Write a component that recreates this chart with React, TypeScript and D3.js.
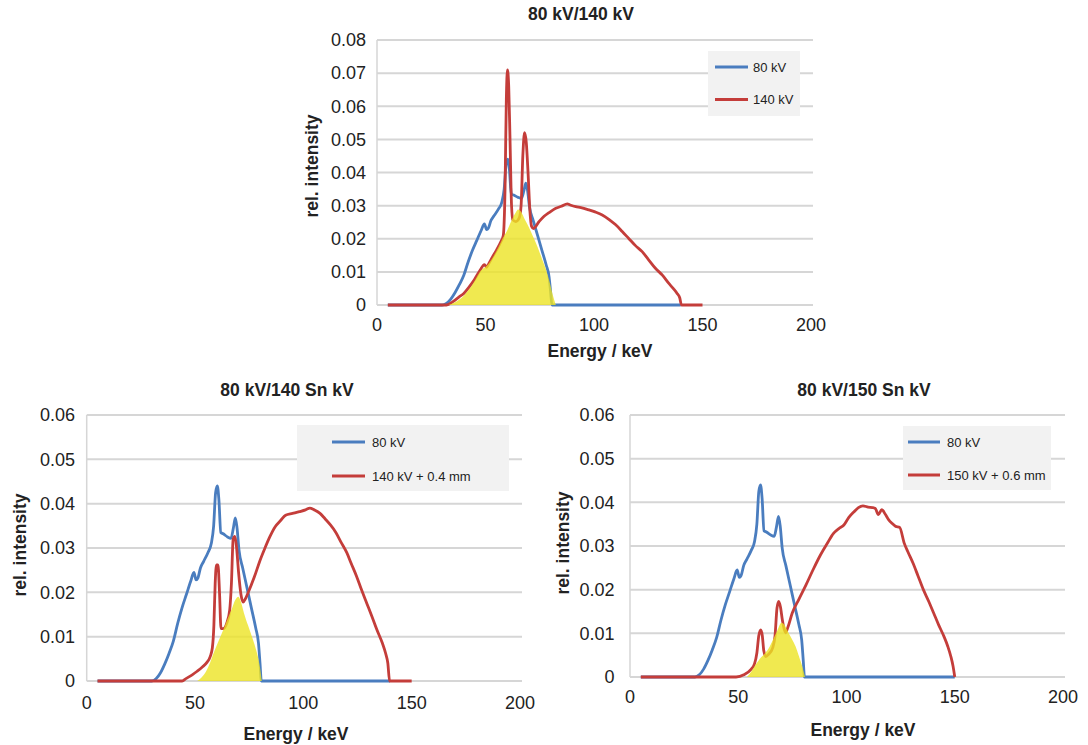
import React from "react";
import * as d3 from "d3";

// ---------- data ----------
const e80 = [5, 30, 32, 34, 36, 38, 40, 42, 44, 46, 48, 49.5, 50.5, 51.3, 52.5, 54, 56, 57.5, 58.6, 59.5, 60.3, 61, 61.9, 63, 65, 66.6, 67.7, 68.6, 69.4, 70.3, 72, 74, 76, 78, 79.3, 80, 80.6, 140];
const i80 = [0, 0, 0.0005, 0.0018, 0.0038, 0.0062, 0.009, 0.013, 0.0165, 0.0195, 0.0225, 0.0245, 0.0228, 0.0232, 0.0255, 0.027, 0.029, 0.031, 0.035, 0.0425, 0.044, 0.041, 0.0335, 0.0332, 0.0325, 0.0322, 0.0345, 0.0368, 0.0345, 0.0295, 0.0255, 0.021, 0.0165, 0.012, 0.0085, 0.004, 0, 0];
const e80End150 = [...e80.slice(0, -1), 150];

const e140 = [5, 32, 35, 38, 40, 42.5, 45, 47.5, 49.5, 50.5, 51.5, 53.3, 55, 57, 58.2, 59, 59.6, 60.1, 60.7, 61.3, 62, 62.6, 64, 65.5, 66.4, 67.2, 68, 68.8, 69.6, 70.5, 71.2, 72.1, 74.7, 77, 79.3, 82.4, 85, 87.7, 89, 91.6, 94, 97.7, 100.5, 103.8, 107, 110, 113, 116, 119, 122.2, 125, 128.3, 131.5, 134.5, 136.5, 138.3, 139.5, 140.3, 150];
const i140 = [0, 0, 0.001, 0.0025, 0.0035, 0.0055, 0.0078, 0.0105, 0.0122, 0.0114, 0.0125, 0.0146, 0.0165, 0.019, 0.021, 0.035, 0.062, 0.071, 0.066, 0.05, 0.03, 0.0257, 0.0252, 0.0262, 0.03, 0.045, 0.052, 0.049, 0.04, 0.028, 0.0238, 0.0231, 0.0252, 0.0268, 0.0279, 0.0292, 0.0298, 0.0305, 0.0302, 0.0297, 0.0294, 0.0287, 0.0281, 0.0272, 0.0258, 0.0242, 0.0222, 0.0201, 0.018, 0.0161, 0.0138, 0.0111, 0.009, 0.0065, 0.005, 0.0035, 0.0022, 0, 0];
const eOverlap1 = [33, 36, 40, 44, 48, 50.5, 53, 56, 58, 60, 62, 64, 65, 66.5, 68, 70, 72, 74, 76, 78, 79.5, 81, 82.4];
const iOverlap1 = [0, 0.0008, 0.0028, 0.0062, 0.0105, 0.0118, 0.014, 0.0175, 0.0202, 0.0225, 0.0255, 0.028, 0.0288, 0.028, 0.026, 0.0235, 0.0205, 0.0175, 0.014, 0.0105, 0.007, 0.003, 0];

const e140Sn = [5, 44, 46, 48.7, 51, 53.5, 55.5, 57, 58, 58.7, 59.3, 59.9, 60.6, 61.3, 62, 63, 64.6, 66, 66.8, 67.6, 68.4, 69.2, 70.1, 71.2, 72.2, 73.2, 74.4, 77.4, 80, 82.2, 84.5, 87, 89.5, 91.8, 95, 98.2, 101, 103, 105, 107.7, 110, 112.5, 115, 117.3, 120, 122.1, 124.5, 126.9, 129.3, 131.7, 134, 136.5, 138, 139, 139.8, 150];
const i140Sn = [0, 0, 0.0006, 0.0014, 0.0022, 0.0032, 0.0042, 0.0055, 0.0075, 0.0125, 0.022, 0.0262, 0.0262, 0.02, 0.0118, 0.0118, 0.013, 0.016, 0.022, 0.032, 0.0326, 0.03, 0.0245, 0.0195, 0.0178, 0.0185, 0.0198, 0.0235, 0.0272, 0.0299, 0.0325, 0.0348, 0.0362, 0.0374, 0.0378, 0.0382, 0.0386, 0.039, 0.0386, 0.0378, 0.0366, 0.0352, 0.0335, 0.0314, 0.029, 0.0265, 0.0237, 0.0205, 0.0175, 0.0145, 0.0115, 0.0085, 0.0062, 0.004, 0, 0];
const eOverlap2 = [51, 53, 55, 57, 59, 61, 63, 65, 67, 68.5, 70, 71.2, 72.6, 74.5, 76, 77.5, 79, 80, 80.8];
const iOverlap2 = [0, 0.0008, 0.0021, 0.0042, 0.0068, 0.0092, 0.0115, 0.014, 0.0163, 0.0182, 0.019, 0.0178, 0.0153, 0.0125, 0.0104, 0.0082, 0.0055, 0.003, 0];

const e150Sn = [5, 49, 52.6, 55.8, 57.5, 58.6, 59.5, 60.4, 61.1, 61.8, 62.7, 64, 66, 67, 67.9, 68.7, 69.5, 70.4, 71.8, 73, 74.9, 78, 81.3, 84.5, 87.6, 91, 94, 96.5, 98.8, 101, 103.6, 105.5, 107.6, 110, 112, 113.3, 114.7, 116.3, 118, 119.5, 121, 122.7, 124.5, 126.7, 128.5, 130.7, 133, 135.5, 138, 140.3, 142.5, 145, 146.8, 148.2, 149.2, 150];
const i150Sn = [0, 0, 0.0005, 0.0017, 0.003, 0.0055, 0.0095, 0.0108, 0.0095, 0.006, 0.0047, 0.0052, 0.0068, 0.0095, 0.0158, 0.0173, 0.016, 0.013, 0.0101, 0.0115, 0.0146, 0.0178, 0.0211, 0.0245, 0.0276, 0.0305, 0.0329, 0.034, 0.0348, 0.0365, 0.0379, 0.0388, 0.0392, 0.0389, 0.0388, 0.0386, 0.0372, 0.0383, 0.0372, 0.036, 0.0352, 0.0345, 0.0343, 0.0306, 0.0285, 0.0261, 0.0232, 0.02, 0.0173, 0.0146, 0.012, 0.0093, 0.007, 0.0047, 0.0025, 0];
const eOverlap3 = [54, 56, 58, 60, 62, 64, 66, 68, 70, 71.5, 73.3, 75, 76.5, 78, 79.5, 80.8];
const iOverlap3 = [0, 0.0012, 0.0028, 0.0042, 0.0052, 0.0065, 0.0085, 0.0106, 0.0124, 0.0118, 0.01, 0.0085, 0.007, 0.0048, 0.0025, 0];

const xTicks = [0, 50, 100, 150, 200];
const yTicksTop = [0, 0.01, 0.02, 0.03, 0.04, 0.05, 0.06, 0.07, 0.08];
const yTicksBottom = [0, 0.01, 0.02, 0.03, 0.04, 0.05, 0.06];

const titles = ["80 kV/140 kV", "80 kV/140 Sn kV", "80 kV/150 Sn kV"];
const legendTop = ["80 kV", "140 kV"];
const legendLeft = ["80 kV", "140 kV + 0.4 mm"];
const legendRight = ["80 kV", "150 kV + 0.6 mm"];

const BLUE = "#4a7dbf";
const RED = "#c43d3a";
const GRID = "#d6d6d6";
const FONT = "'Liberation Sans', Arial, Helvetica, sans-serif";

const zip = (e: number[], v: number[]) => e.map((x, i) => [x, v[i]] as [number, number]);
const fmt = (v: number) => (v === 0 ? "0" : d3.format(".2f")(v));

type Layout = {
  x0: number; x1: number; y0: number; y1: number; yMax: number; yTicks: number[];
  yTickRight: number; xTickY: number; title: string; titleX: number; titleY: number;
  xLabelX: number; xLabelY: number; yLabelX: number; yLabelY: number;
  legend: { x: number; y: number; w: number; h: number; lx0: number; lx1: number; tx: number; ly: number[]; labels: string[] };
  blue: [number, number][]; red: [number, number][]; overlap: [number, number][];
};

function Panel({ L }: { L: Layout }) {
  const x = d3.scaleLinear().domain([0, 200]).range([L.x0, L.x1]);
  const y = d3.scaleLinear().domain([0, L.yMax]).range([L.y0, L.y1]);
  const line = d3.line<[number, number]>().x(d => x(d[0])).y(d => y(d[1])).curve(d3.curveMonotoneX);
  const area = d3.area<[number, number]>().x(d => x(d[0])).y0(y(0)).y1(d => y(d[1])).curve(d3.curveMonotoneX);
  const lg = L.legend;
  return (
    <g>
      {L.yTicks.map(t => (
        <line key={"g" + t} x1={L.x0} x2={L.x1 + 2} y1={y(t)} y2={y(t)} stroke={GRID} strokeWidth={2} />
      ))}
      <line x1={L.x0} x2={L.x0} y1={y(0)} y2={y(L.yMax)} stroke={GRID} strokeWidth={1.5} />
      {L.yTicks.map(t => (
        <text key={"t" + t} x={L.yTickRight} y={y(t)} dy="0.35em" textAnchor="end" fontSize={18} fill="#222" fontFamily={FONT}>{fmt(t)}</text>
      ))}
      {xTicks.map(t => (
        <text key={"x" + t} x={x(t)} y={L.xTickY} dy="0.35em" textAnchor="middle" fontSize={18} fill="#222" fontFamily={FONT}>{t}</text>
      ))}
      <rect x={lg.x} y={lg.y} width={lg.w} height={lg.h} fill="#f2f2f2" />
      {lg.labels.map((s, i) => (
        <g key={s}>
          <line x1={lg.lx0} x2={lg.lx1} y1={lg.ly[i]} y2={lg.ly[i]} stroke={i === 0 ? BLUE : RED} strokeWidth={3} />
          <text x={lg.tx} y={lg.ly[i]} dy="0.35em" fontSize={13} fill="#222" fontFamily={FONT}>{s}</text>
        </g>
      ))}
      <path d={line(L.blue) || ""} fill="none" stroke={BLUE} strokeWidth={2.8} strokeLinejoin="round" />
      <path d={line(L.red) || ""} fill="none" stroke={RED} strokeWidth={2.8} strokeLinejoin="round" />
      <path d={area(L.overlap) || ""} fill="#ece324" fillOpacity={0.8} />
      <text x={L.titleX} y={L.titleY} dy="0.35em" textAnchor="middle" fontSize={17.5} fontWeight="bold" fill="#222" fontFamily={FONT}>{L.title}</text>
      <text x={L.xLabelX} y={L.xLabelY} dy="0.35em" textAnchor="middle" fontSize={17.5} fontWeight="bold" fill="#222" fontFamily={FONT}>Energy / keV</text>
      <text transform={`translate(${L.yLabelX},${L.yLabelY}) rotate(-90)`} dy="0.35em" textAnchor="middle" fontSize={17.5} fontWeight="bold" fill="#222" fontFamily={FONT}>rel. intensity</text>
    </g>
  );
}

export default function App() {
  const layouts: Layout[] = [
    {
      x0: 377, x1: 811, y0: 305, y1: 40, yMax: 0.08, yTicks: yTicksTop, yTickRight: 366, xTickY: 325,
      title: titles[0], titleX: 581, titleY: 14, xLabelX: 600, xLabelY: 351, yLabelX: 312, yLabelY: 166,
      legend: { x: 708, y: 51, w: 92, h: 65, lx0: 715, lx1: 748, tx: 753, ly: [67, 99.5], labels: legendTop },
      blue: zip(e80, i80), red: zip(e140, i140), overlap: zip(eOverlap1, iOverlap1),
    },
    {
      x0: 86.7, x1: 520, y0: 681, y1: 415, yMax: 0.06, yTicks: yTicksBottom, yTickRight: 75, xTickY: 703,
      title: titles[1], titleX: 287, titleY: 390, xLabelX: 296, xLabelY: 734, yLabelX: 20, yLabelY: 545,
      legend: { x: 297, y: 425, w: 212, h: 66, lx0: 332, lx1: 365, tx: 372, ly: [442, 476], labels: legendLeft },
      blue: zip(e80, i80), red: zip(e140Sn, i140Sn), overlap: zip(eOverlap2, iOverlap2),
    },
    {
      x0: 630, x1: 1063, y0: 677, y1: 415, yMax: 0.06, yTicks: yTicksBottom, yTickRight: 614.5, xTickY: 697,
      title: titles[2], titleX: 864, titleY: 390, xLabelX: 863, xLabelY: 730, yLabelX: 563, yLabelY: 543,
      legend: { x: 903, y: 426, w: 148, h: 64, lx0: 908, lx1: 940, tx: 947, ly: [442, 475], labels: legendRight },
      blue: zip(e80End150, i80), red: zip(e150Sn, i150Sn), overlap: zip(eOverlap3, iOverlap3),
    },
  ];
  return (
    <svg width={1088} height={745} style={{ position: "absolute", left: 0, top: 0, background: "#fff" }}>
      <rect width={1088} height={745} fill="#fff" />
      {layouts.map((L, i) => <Panel key={i} L={L} />)}
    </svg>
  );
}
